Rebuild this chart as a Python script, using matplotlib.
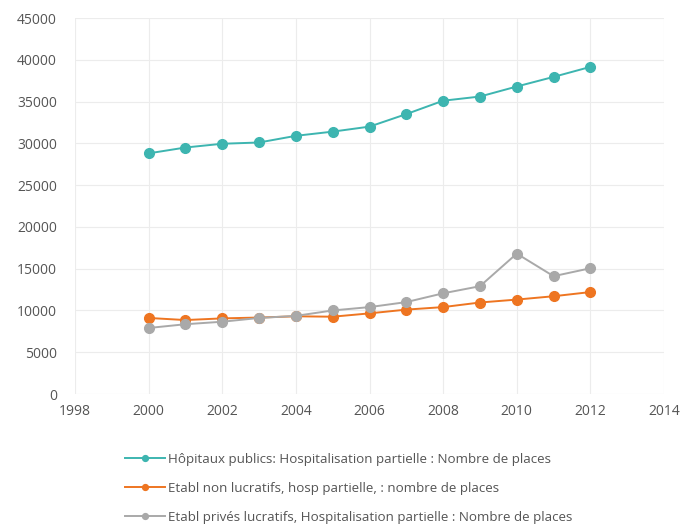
import matplotlib.pyplot as plt
import numpy as np

plt.rcParams['font.family'] = ['Open Sans', 'DejaVu Sans']

years = np.arange(2000, 2013)
publics = [28800, 29500, 29950, 30100, 30900, 31400, 32000, 33500, 35100, 35600, 36800, 37950, 39150]
non_lucratifs = [9100, 8850, 9050, 9150, 9300, 9250, 9650, 10100, 10400, 10950, 11300, 11700, 12200]
prives = [7900, 8350, 8650, 9100, 9350, 10000, 10400, 11000, 12050, 12900, 16800, 14100, 15050]

labels = [
    'Hôpitaux publics: Hospitalisation partielle : Nombre de places',
    'Etabl non lucratifs, hosp partielle, : nombre de places',
    'Etabl privés lucratifs, Hospitalisation partielle : Nombre de places',
]
colors = ['#3db5b0', '#ee7521', '#a9a9a9']

fig = plt.figure(figsize=(6.98, 5.30), dpi=100)
ax = fig.add_axes([75 / 698, 1 - 394 / 530, (664 - 75) / 698, (394 - 18) / 530])

for series, color, label in zip([publics, non_lucratifs, prives], colors, labels):
    ax.plot(years, series, color=color, lw=1.4, marker='o', ms=7, label=label)

ax.set_xlim(1998, 2014)
ax.set_ylim(0, 45000)
ax.set_xticks(np.arange(1998, 2015, 2))
ax.set_yticks(np.arange(0, 45001, 5000))
ax.grid(True, color='#ececec', lw=0.8)
ax.set_axisbelow(True)
for s in ax.spines.values():
    s.set_visible(False)
ax.tick_params(length=0, colors='#555555', labelsize=10)
ax.tick_params(axis='y', pad=13)
ax.tick_params(axis='x', pad=7)

fig.legend(loc='upper left', bbox_to_anchor=(113 / 698, 1 - 441 / 530), frameon=False,
           fontsize=9.6, labelcolor='#555555', handlelength=3.0, labelspacing=1.2,
           handletextpad=0.25, markerscale=0.6)

fig.savefig('out.png', dpi=100)
